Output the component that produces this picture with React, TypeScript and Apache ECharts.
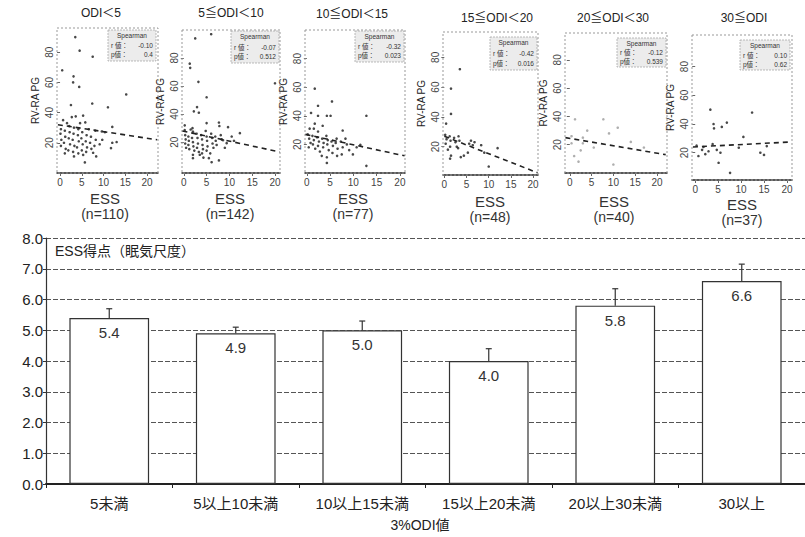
import React, { useEffect, useRef } from "react";
import * as echarts from "echarts";

// ---------- data ----------
const panelTitles = ["ODI＜5", "5≦ODI＜10", "10≦ODI＜15", "15≦ODI＜20", "20≦ODI＜30", "30≦ODI"];
const sampleSizes = [110, 142, 77, 48, 40, 37];
const spearmanR = ["-0.10", "-0.07", "-0.32", "-0.42", "-0.12", "0.10"];
const spearmanP = ["0.4", "0.512", "0.023", "0.016", "0.539", "0.62"];
const essTicks = [0, 5, 10, 15, 20];
const pgTicks = [20, 40, 60, 80];

const odiLt5 = [[3.5,90],[4.5,81],[7.5,77],[0.5,68],[3.1,64],[3,60],[4.4,57],[15.2,52],[7.4,46],[2.5,45],[11,43.5],[5.3,38],[2.7,37],[3.6,37.5],[0.7,35],[1.6,33],[4.6,33],[5.8,33.5],[2.1,31],[3.2,30],[4.2,29],[6.6,29],[8.1,28],[12,30.5],[10.3,27],[9.6,27.5],[0.2,29],[0.1,26],[0.3,22],[0.2,18],[1.1,28],[1.2,24],[0.9,20],[1.3,16],[1.1,13],[2.2,27],[2,23],[2.3,19],[1.9,15],[3.1,26],[2.9,22],[3.3,18],[3,14],[3.2,11],[4.1,25],[4.3,21],[3.9,17],[4.2,13],[5.1,27],[4.9,23],[5.2,19],[5,15],[5.3,12],[6.1,25],[5.9,21],[6.2,17],[6,14],[7.1,24],[6.9,20],[7.2,16],[8.2,22],[7.9,18],[9.7,22],[9.1,19],[12,20],[13,20.5],[11.7,16.5],[7.6,13.4],[5.7,7],[8.3,11]];
const odi5to10 = [[2.5,94],[6,97],[1.3,76],[1.4,73],[3.2,63],[5,52],[20,62],[2.9,45],[3.3,41],[2.2,42],[5,33.6],[7.7,34],[7.8,31.5],[9.7,30.7],[12.3,26.4],[0.2,32],[0.2,28.6],[1.5,29],[1.9,30],[2,27.5],[0.3,25],[0.4,22],[0.3,19],[0.5,16],[1,24],[1.1,21],[1,18],[1.2,15],[1.8,23],[2,20],[2.1,17],[2.3,14],[2,11],[2.8,26],[3,23],[3.1,19],[2.9,16],[3.3,13],[3.5,11],[3.8,25],[4,22],[4.1,18],[4.2,15],[4,12],[4.3,9],[4.8,28],[5,24],[5.1,21],[5.2,17],[5,14],[5.5,8.6],[6.1,5.7],[5.8,12],[6,26],[6.2,23],[6.3,19],[6.5,16],[6.9,24],[7,21],[7.2,18],[7.7,7],[8.1,25],[8.3,22],[8.6,21.4],[9.4,19.3],[9,16],[10.5,24],[11,21],[2,8.6]];
const odi10to15 = [[1.7,59],[5.4,50],[2.4,47],[0.9,42],[2.4,40],[4.3,40],[5.1,40],[12.8,40],[1.7,34.5],[3.4,33],[0.6,31],[1.5,31],[2.4,29],[7.7,29.7],[0.2,27],[0.5,24],[0.8,21],[0.4,18],[1.2,26],[1.5,23],[1.3,20],[1.8,17],[2.2,25],[2.6,22],[2.4,19],[2.8,15],[3.3,24],[3.6,21],[3.5,18],[3.2,12],[4.2,26],[4.5,23],[4.4,20],[4.7,16],[4.3,11],[5.3,22],[5.6,19],[5.5,14],[6.4,24],[6.2,21],[6.6,17],[6.5,12],[7.3,22],[7.7,18],[7.5,13],[8.3,24],[8.6,20],[9.1,16],[9.9,13],[10.7,18],[11.5,19.7],[4.3,7],[12.8,5]];
const odi15to20 = [[3.5,72],[1.5,59],[1.5,42],[0.4,35.5],[0.2,28],[0.5,25],[0.3,22],[0.8,18],[1.2,27],[1.4,24],[1.3,20],[1.5,14],[1.3,12],[2.2,26],[2.5,23],[2.8,20],[3.2,27],[3.4,24],[3.1,19],[3.7,13],[4.4,14],[5.3,16],[5.6,22],[6,24],[6.4,21],[6.8,23],[8.3,21],[9,16],[10,6.7],[12,19]];
const odi20to30 = [[0.4,26],[1.2,38],[0.4,21],[1,12],[2,8],[2.5,16],[3,21],[3,25],[4,30],[5.5,18],[7.7,38],[9,28],[10,6],[11,32],[14,22],[17,18]];
const odiGe30 = [[3.3,50],[4,40],[4.1,37],[5.8,38],[6.9,41],[12.4,48],[0.7,17.7],[1.5,22],[2.2,19],[2.9,21],[1.8,24],[3.8,26],[4.7,22],[5.5,20],[5.1,13],[7.6,6],[9.5,23.5],[10.5,31],[14.2,20],[15.6,24.6],[15,18.5],[0.3,25]];
const scatterSets = [odiLt5, odi5to10, odi10to15, odi15to20, odi20to30, odiGe30];

const regStart = [[-0.5, 32], [-0.3, 28], [-0.3, 27], [0, 27], [-1, 25], [-0.5, 24]];
const regEnd = [[22.3, 22], [21, 13], [21, 12], [21, 2.5], [22, 13], [21, 27.5]];

const odiCategories = ["5未満", "5以上10未満", "10以上15未満", "15以上20未満", "20以上30未満", "30以上"];
const essMeans = [5.4, 4.9, 5.0, 4.0, 5.8, 6.6];
const essErr = [0.3, 0.2, 0.3, 0.4, 0.55, 0.55];

// ---------- layout ----------
const panels = [
  { left: 57, top: 28, width: 101, height: 145, xr: [-0.7, 22.5], yr: [0, 96], tx: 101, ty: 13, cx: 105, ey: 198, box: [108, 30, 48, 31] },
  { left: 182, top: 30, width: 98, height: 143, xr: [-0.4, 21.1], yr: [-2, 100], tx: 231, ty: 13, cx: 230, ey: 198, box: [231, 31, 48, 32] },
  { left: 305, top: 30, width: 100, height: 143, xr: [-0.4, 21.1], yr: [0, 100], tx: 352, ty: 14, cx: 353, ey: 198, box: [355, 31, 49, 31] },
  { left: 443, top: 32, width: 95, height: 143, xr: [-0.3, 21.1], yr: [1, 97], tx: 497, ty: 18, cx: 490, ey: 201, box: [490, 37, 47, 33] },
  { left: 565, top: 33, width: 102, height: 140, xr: [-1.1, 22.3], yr: [0, 99], tx: 613, ty: 18, cx: 614, ey: 201, box: [617, 38, 49, 29] },
  { left: 692, top: 35, width: 100, height: 145, xr: [-0.7, 21.1], yr: [1, 102], tx: 744, ty: 18, cx: 742, ey: 204, box: [740, 40, 50, 30] },
];

const FONT = "'Liberation Sans', 'Noto Sans CJK JP', sans-serif";

export default function App() {
  const ref = useRef<HTMLDivElement>(null);
  useEffect(() => {
    const chart = echarts.init(ref.current!, null, { renderer: "svg" });
    const grids: any[] = [];
    const xAxes: any[] = [];
    const yAxes: any[] = [];
    const series: any[] = [];
    const graphics: any[] = [];

    panels.forEach((p, i) => {
      grids.push({ left: p.left, top: p.top, width: p.width, height: p.height });
      xAxes.push({
        type: "value", gridIndex: i, min: p.xr[0], max: p.xr[1],
        splitLine: { show: false },
        axisLine: { show: true, onZero: false, lineStyle: { color: "#222", width: 1.5 } },
        axisTick: { show: true, length: 3, customValues: essTicks, lineStyle: { color: "#666" } },
        axisLabel: { customValues: essTicks, fontSize: 10, color: "#444", margin: 4, fontFamily: FONT },
      });
      yAxes.push({
        type: "value", gridIndex: i, min: p.yr[0], max: p.yr[1],
        name: "RV-RA PG", nameLocation: "middle", nameRotate: 90, nameGap: 17,
        nameTextStyle: { fontSize: 10, color: "#222", fontFamily: FONT },
        splitLine: { show: false },
        axisLine: { show: false },
        axisTick: { show: true, length: 3, customValues: pgTicks, lineStyle: { color: "#666" } },
        axisLabel: { customValues: pgTicks, rotate: 90, fontSize: 10, color: "#444", margin: 3, fontFamily: FONT },
      });
      series.push({
        type: "scatter", xAxisIndex: i, yAxisIndex: i, data: scatterSets[i],
        symbolSize: 2.6, itemStyle: { color: i === 4 ? "#9a9a9a" : "#1a1a1a" },
      });
      series.push({
        type: "line", xAxisIndex: i, yAxisIndex: i, data: [regStart[i], regEnd[i]],
        symbol: "none", lineStyle: { color: "#222", width: 1.6, type: [5, 4] },
      });
      graphics.push({
        type: "rect", shape: { x: p.left, y: p.top, width: p.width, height: p.height },
        style: { fill: "none", stroke: "#999", lineWidth: 1, lineDash: [2, 2] }, z: 1,
      });
      graphics.push({
        type: "text", x: p.tx, y: p.ty,
        style: { text: panelTitles[i], fontSize: 12, fontFamily: FONT, fill: "#222", align: "center", verticalAlign: "middle" },
      });
      graphics.push({
        type: "text", x: p.cx, y: p.ey,
        style: { text: "ESS", fontSize: 15, fontFamily: FONT, fill: "#333", align: "center", verticalAlign: "middle" },
      });
      graphics.push({
        type: "text", x: p.cx, y: p.ey + 16,
        style: { text: "(n=" + sampleSizes[i] + ")", fontSize: 14, fontFamily: FONT, fill: "#333", align: "center", verticalAlign: "middle" },
      });
      const [bx, by, bw, bh] = p.box;
      graphics.push({
        type: "rect", shape: { x: bx, y: by, width: bw, height: bh },
        style: { fill: "#ececec", stroke: "#aaa", lineWidth: 0.8, lineDash: [2, 1] }, z: 5,
      });
      const tStyle = { fontSize: 6.5, fontFamily: FONT, fill: "#333", verticalAlign: "middle" };
      graphics.push({ type: "text", x: bx + bw / 2, y: by + 5, z: 6, style: { ...tStyle, text: "Spearman", align: "center" } });
      graphics.push({ type: "text", x: bx + 3, y: by + bh * 0.5, z: 6, style: { ...tStyle, text: "r 値：", align: "left" } });
      graphics.push({ type: "text", x: bx + bw - 3, y: by + bh * 0.5, z: 6, style: { ...tStyle, text: spearmanR[i], align: "right" } });
      graphics.push({ type: "text", x: bx + 3, y: by + bh * 0.8, z: 6, style: { ...tStyle, text: "p値：", align: "left" } });
      graphics.push({ type: "text", x: bx + bw - 3, y: by + bh * 0.8, z: 6, style: { ...tStyle, text: spearmanP[i], align: "right" } });
    });

    // bar chart
    const bi = 6;
    grids.push({ left: 46, top: 238, width: 759, height: 246 });
    xAxes.push({
      type: "category", gridIndex: bi, data: odiCategories,
      axisLine: { show: true, lineStyle: { color: "#222", width: 2 } },
      axisTick: { show: true, length: 4, lineStyle: { color: "#222" } },
      axisLabel: { fontSize: 15, color: "#222", margin: 12, fontFamily: FONT },
    });
    yAxes.push({
      type: "value", gridIndex: bi, min: 0, max: 8, interval: 1,
      axisLine: { show: true, lineStyle: { color: "#333", width: 1.2 } },
      axisTick: { show: true, length: 3, lineStyle: { color: "#333" } },
      axisLabel: { fontSize: 15, color: "#222", margin: 3, fontFamily: FONT, formatter: (v: number) => v.toFixed(1) },
      splitLine: { show: true, lineStyle: { color: "#555", width: 1, type: [5, 2] } },
    });
    series.push({
      type: "bar", xAxisIndex: bi, yAxisIndex: bi, data: essMeans, barWidth: "63%",
      itemStyle: { color: "#fff", borderColor: "#333", borderWidth: 1.2 },
      label: {
        show: true, position: "insideTop", distance: 7, fontSize: 15, color: "#333", fontFamily: FONT,
        formatter: (pr: any) => Number(pr.value).toFixed(1),
      },
    });
    series.push({
      type: "custom", xAxisIndex: bi, yAxisIndex: bi,
      data: essMeans.map((m, k) => [k, m, essErr[k]]),
      encode: { x: 0, y: 1 }, z: 10,
      renderItem: (params: any, api: any) => {
        const base = api.coord([api.value(0), api.value(1)]);
        const top = api.coord([api.value(0), api.value(1) + api.value(2)]);
        const st = { stroke: "#333", lineWidth: 1.2 };
        return {
          type: "group",
          children: [
            { type: "line", shape: { x1: base[0], y1: base[1], x2: top[0], y2: top[1] }, style: st },
            { type: "line", shape: { x1: top[0] - 3, y1: top[1], x2: top[0] + 3, y2: top[1] }, style: st },
          ],
        };
      },
    });
    graphics.push({
      type: "text", x: 55, y: 251, z: 10,
      style: { text: "ESS得点（眠気尺度）", fontSize: 14, fontFamily: FONT, fill: "#222", align: "left", verticalAlign: "middle" },
    });
    graphics.push({
      type: "text", x: 420, y: 525,
      style: { text: "3%ODI値", fontSize: 14, fontFamily: FONT, fill: "#222", align: "center", verticalAlign: "middle" },
    });

    chart.setOption({
      animation: false,
      backgroundColor: "#fff",
      grid: grids,
      xAxis: xAxes,
      yAxis: yAxes,
      series,
      graphic: graphics,
    });
    return () => chart.dispose();
  }, []);
  return (
    <div
      ref={ref}
      style={{ position: "fixed", left: 0, top: 0, width: 805, height: 537, background: "#fff" }}
    />
  );
}
